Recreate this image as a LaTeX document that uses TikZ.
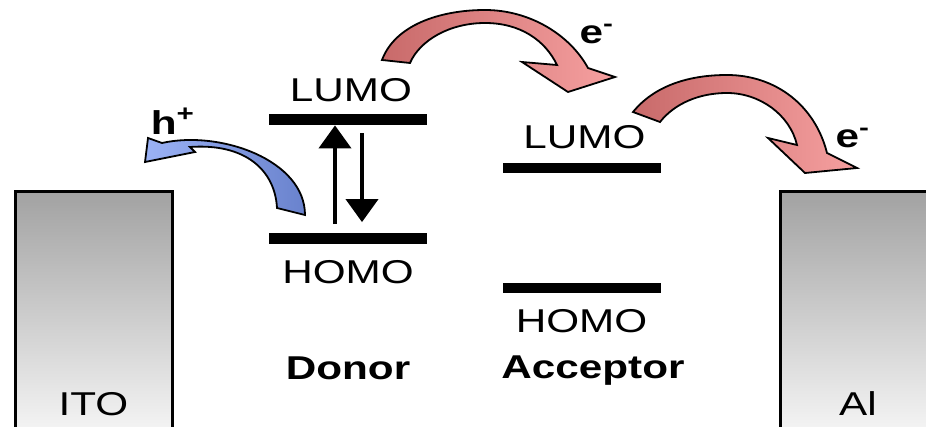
\documentclass[tikz,border=0pt]{standalone}
\usepackage{fontspec}
\setmainfont{Liberation Sans}
\usepackage{graphicx}
\usepackage{tikz}
\usetikzlibrary{positioning,arrows.meta}
\usepackage{xcolor}
\definecolor{edark}{RGB}{200,106,106}
\definecolor{elight}{RGB}{246,160,160}
\definecolor{hdark}{RGB}{105,130,205}
\definecolor{hlight}{RGB}{155,178,245}
\definecolor{elecTop}{RGB}{162,162,162}
\definecolor{elecBot}{RGB}{248,248,248}
\newcommand{\wide}[1]{\scalebox{1.28}[1]{#1}}

\begin{document}
\begin{tikzpicture}[x=0.5pt, y=-0.5pt,
      bar/.style={fill=black, inner sep=0pt, minimum width=79pt, minimum height=5.5pt},
      lvl/.style={inner sep=0pt, font=\fontsize{16.5}{19}\selectfont},
      mat/.style={inner sep=0pt, font=\fontsize{16.5}{19}\selectfont\bfseries},
      carrier/.style={inner sep=0pt, font=\fontsize{16.5}{19}\selectfont\bfseries},
      elec/.style={draw, line width=1.5pt, top color=elecTop, bottom color=elecBot,
                   anchor=north west, minimum height=124.75pt, inner sep=0pt},
      eflow/.style={draw, line width=0.9pt, left color=edark, right color=elight},
      hflow/.style={draw, line width=0.9pt, left color=hlight, right color=hdark},
      >={Triangle[width=16pt, length=11.5pt]}]
    \useasboundingbox (0,0) rectangle (926,427);
    \clip (0,0) rectangle (926,427);
    \node[elec, minimum width=78.5pt] (ito) at (13.5,190.5) {};
    \node[elec, minimum width=77.5pt] (al) at (779,190.5) {};
    \node[lvl, above=13.5pt of ito.south] (itotxt) {\wide{ITO}};
    \node[lvl, above=13.5pt of al.south] (altxt) {\wide{Al}};
    \node[bar] (dlumo) at (348,119.5) {};
    \node[bar] (dhomo) at (348,239) {};
    \node[bar, minimum height=5.25pt] (alumo) at (581.5,168) {};
    \node[bar, minimum height=5.25pt] (ahomo) at (581.5,288) {};
    \node[lvl, above=5.5pt of dlumo, xshift=1.5pt] (dlumotxt) {\wide{LUMO}};
    \node[lvl, below=7.5pt of dhomo] (dhomotxt) {\wide{HOMO}};
    \node[lvl, above=6.5pt of alumo, xshift=1.5pt] (alumotxt) {\wide{LUMO}};
    \node[lvl, below=7.5pt of ahomo] (ahomotxt) {\wide{HOMO}};
    \node[mat, below=36pt of dhomotxt] (donor) {\wide{Donor}};
    \node[mat, below=11.5pt of ahomotxt, xshift=5.75pt] (acceptor) {\wide{Acceptor}};
    \draw[->, line width=2pt] ([xshift=-6.5pt, yshift=4.5pt]dhomo.north) -- ([xshift=-6.5pt]dlumo.south);
    \draw[->, line width=2pt] ([xshift=7pt, yshift=-4pt]dlumo.south) -- ([xshift=7pt, yshift=5.5pt]dhomo.north);
    \draw[eflow] (382,60) .. controls (395,25) and (440,10) .. (485,10)
      .. controls (530,10) and (570,35) .. (588,68)
      -- (615,77) -- (568,92) -- (522,62) -- (557,65)
      .. controls (545,40) and (520,23) .. (485,23)
      .. controls (450,23) and (420,40) .. (410,63) -- cycle;
    \draw[eflow] (633,112) .. controls (655,85) and (690,75) .. (727,75)
      .. controls (775,75) and (815,105) .. (827,153)
      -- (857,168) -- (805,173) -- (768,138) -- (797,145)
      .. controls (790,115) and (760,93) .. (727,93)
      .. controls (700,93) and (675,103) .. (660,122) -- cycle;
    \draw[hflow] (305,215) -- (277,208)
      .. controls (275,170) and (245,143) .. (190,147)
      -- (195,152) -- (145,162) -- (148,138) -- (162,143)
      .. controls (220,130) and (305,160) .. (305,215) -- cycle;
    \node[carrier] (hole) at (173,121) {\wide{h\textsuperscript{+}}};
    \node[carrier] (etop) at (597,34) {\wide{e\textsuperscript{-}}};
    \node[carrier] (eright) at (853,138) {\wide{e\textsuperscript{-}}};
  \end{tikzpicture}
\end{document}
